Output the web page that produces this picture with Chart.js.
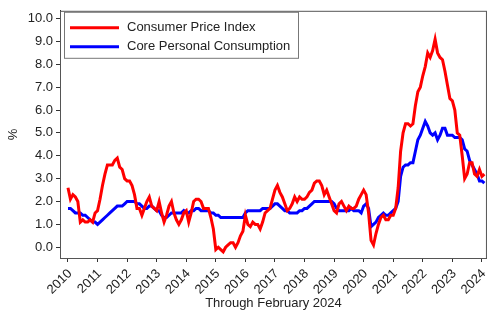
<!DOCTYPE html>
<html>
<head>
<meta charset="utf-8">
<script src="https://cdn.jsdelivr.net/npm/chart.js@4"></script>
<style>
  html, body { margin: 0; padding: 0; background: #fff; }
  #wrap { width: 497px; height: 314px; }
</style>
</head>
<body>
<div id="wrap"><canvas id="inflationChart" width="497" height="314"></canvas></div>
<script>
// monthly year-over-year rates, Jan 2010 .. Feb 2024
var startYear = 2010;
var seriesNames = ['Consumer Price Index', 'Core Personal Consumption'];
var cpi = [
    2.6, 2.1, 2.3, 2.2, 2.0, 1.1, 1.2, 1.1, 1.1, 1.2, 1.1, 1.5,
    1.6, 2.1, 2.7, 3.2, 3.6, 3.6, 3.6, 3.8, 3.9, 3.5, 3.4, 3.0,
    2.9, 2.9, 2.7, 2.3, 1.7, 1.7, 1.4, 1.7, 2.0, 2.2, 1.8, 1.7,
    1.6, 2.0, 1.5, 1.1, 1.4, 1.8, 2.0, 1.5, 1.2, 1.0, 1.2, 1.5,
    1.6, 1.1, 1.5, 2.0, 2.1, 2.1, 2.0, 1.7, 1.7, 1.7, 1.3, 0.8,
    -0.1, 0.0, -0.1, -0.2, 0.0, 0.1, 0.2, 0.2, 0.0, 0.2, 0.5, 0.7,
    1.4, 1.0, 0.9, 1.1, 1.0, 1.0, 0.8, 1.1, 1.5, 1.6, 1.7, 2.1,
    2.5, 2.7, 2.4, 2.2, 1.9, 1.6, 1.7, 1.9, 2.2, 2.0, 2.2, 2.1,
    2.1, 2.2, 2.4, 2.5, 2.8, 2.9, 2.9, 2.7, 2.3, 2.5, 2.2, 1.9,
    1.6, 1.5, 1.9, 2.0, 1.8, 1.6, 1.8, 1.7, 1.7, 1.8, 2.1, 2.3,
    2.5, 2.3, 1.5, 0.3, 0.1, 0.6, 1.0, 1.3, 1.4, 1.2, 1.2, 1.4,
    1.4, 1.7, 2.6, 4.2, 5.0, 5.4, 5.4, 5.3, 5.4, 6.2, 6.8, 7.0,
    7.5, 7.9, 8.5, 8.3, 8.6, 9.1, 8.5, 8.3, 8.2, 7.7, 7.1, 6.5,
    6.4, 6.0, 5.0, 4.9, 4.0, 3.0, 3.2, 3.7, 3.7, 3.2, 3.1, 3.4,
    3.1, 3.2
];
var corePce = [
    1.7, 1.7, 1.6, 1.5, 1.5, 1.5, 1.4, 1.4, 1.3, 1.2, 1.1, 1.1,
    1.0, 1.1, 1.2, 1.3, 1.4, 1.5, 1.6, 1.7, 1.8, 1.8, 1.8, 1.9,
    2.0, 2.0, 2.0, 2.0, 1.9, 1.9, 1.8, 1.7, 1.7, 1.8, 1.8, 1.7,
    1.6, 1.6, 1.4, 1.3, 1.3, 1.4, 1.5, 1.5, 1.5, 1.5, 1.5, 1.6,
    1.5, 1.5, 1.6, 1.6, 1.7, 1.7, 1.6, 1.6, 1.6, 1.6, 1.5, 1.5,
    1.4, 1.4, 1.3, 1.3, 1.3, 1.3, 1.3, 1.3, 1.3, 1.3, 1.3, 1.3,
    1.5, 1.6, 1.6, 1.6, 1.6, 1.6, 1.6, 1.7, 1.7, 1.7, 1.7, 1.8,
    1.9, 1.9, 1.8, 1.7, 1.6, 1.6, 1.5, 1.5, 1.5, 1.5, 1.6, 1.6,
    1.7, 1.7, 1.8, 1.9, 2.0, 2.0, 2.0, 2.0, 2.0, 2.0, 2.0, 2.0,
    1.9, 1.7, 1.6, 1.6, 1.6, 1.6, 1.6, 1.7, 1.6, 1.6, 1.6, 1.5,
    1.8, 1.9, 1.7, 0.9, 1.0, 1.1, 1.3, 1.4, 1.5, 1.4, 1.4, 1.5,
    1.6, 1.7, 2.0, 3.1, 3.5, 3.6, 3.6, 3.7, 3.7, 4.2, 4.7, 4.9,
    5.2, 5.5, 5.3, 5.0, 4.9, 5.0, 4.7, 4.9, 5.2, 5.2, 4.9, 4.9,
    4.9, 4.8, 4.8, 4.8, 4.7, 4.3, 4.2, 3.8, 3.6, 3.4, 3.2, 2.9,
    2.9, 2.8
];
var yearTicks = [2010, 2011, 2012, 2013, 2014, 2015, 2016, 2017, 2018, 2019, 2020, 2021, 2022, 2023, 2024];
var xTitle = 'Through February 2024';
var yTitle = '%';

function toPoints(values) {
    return values.map(function (v, i) {
        return { x: startYear + i / 12, y: v };
    });
}

var fontFamily = '"Liberation Sans", Arial, Helvetica, sans-serif';
var textColor = '#222';

// plot frame plus the boxed legend in the top left corner
var frameAndLegend = {
    id: 'frameAndLegend',
    afterDatasetsDraw: function (chart) {
        var ctx = chart.ctx;
        var a = chart.chartArea;
        ctx.save();
        ctx.strokeStyle = '#555';
        ctx.lineWidth = 1;
        ctx.strokeRect(a.left + 0.5, a.top + 0.5, a.right - a.left - 1, a.bottom - a.top);

        var bx = a.left + 4.5, by = a.top + 1.5, bw = 234, bh = 46;
        ctx.fillStyle = '#fff';
        ctx.fillRect(bx, by, bw, bh);
        ctx.strokeStyle = '#777';
        ctx.strokeRect(bx, by, bw, bh);

        ctx.font = '13px ' + fontFamily;
        ctx.textBaseline = 'middle';
        ctx.textAlign = 'left';
        chart.data.datasets.forEach(function (ds, i) {
            var y = a.top + 17 + i * 19;
            ctx.strokeStyle = ds.borderColor;
            ctx.lineWidth = 3;
            ctx.beginPath();
            ctx.moveTo(a.left + 10, y);
            ctx.lineTo(a.left + 59, y);
            ctx.stroke();
            ctx.fillStyle = textColor;
            ctx.fillText(ds.label, a.left + 67, y);
        });
        ctx.restore();
    }
};

var ctx = document.getElementById('inflationChart').getContext('2d');
var inflationChart = new Chart(ctx, {
    type: 'line',
    data: {
        datasets: [{
            label: seriesNames[0],
            data: toPoints(cpi),
            borderColor: '#ff0000',
            backgroundColor: '#ff0000',
            borderWidth: 3,
            pointRadius: 0,
            tension: 0
        }, {
            label: seriesNames[1],
            data: toPoints(corePce),
            borderColor: '#0000ff',
            backgroundColor: '#0000ff',
            borderWidth: 3,
            pointRadius: 0,
            tension: 0
        }]
    },
    options: {
        responsive: false,
        animation: false,
        events: [],
        layout: { padding: { top: 3, right: 4, bottom: 0, left: 0 } },
        plugins: {
            legend: { display: false },
            tooltip: { enabled: false }
        },
        scales: {
            x: {
                type: 'linear',
                min: 2009.73,
                max: 2024.17,
                afterFit: function (scale) { scale.height = 56; },
                afterBuildTicks: function (scale) {
                    scale.ticks = yearTicks.map(function (y) { return { value: y }; });
                },
                ticks: {
                    color: textColor,
                    font: { family: fontFamily, size: 13 },
                    minRotation: 45,
                    maxRotation: 45,
                    padding: 4,
                    labelOffset: 2,
                    autoSkip: false,
                    callback: function (v) { return String(v); }
                },
                grid: { drawOnChartArea: false, drawTicks: true, tickLength: 4, color: '#333' },
                border: { display: true, color: '#333' },
                title: {
                    display: true,
                    text: xTitle,
                    color: textColor,
                    font: { family: fontFamily, size: 13 },
                    padding: { top: 2, bottom: 3 }
                }
            },
            y: {
                min: -0.47,
                max: 10.34,
                afterFit: function (scale) { scale.width = 60; },
                ticks: {
                    stepSize: 1,
                    includeBounds: false,
                    color: textColor,
                    font: { family: fontFamily, size: 13 },
                    padding: 3,
                    callback: function (v) { return v.toFixed(1); }
                },
                grid: { drawOnChartArea: false, drawTicks: true, tickLength: 4, color: '#333' },
                border: { display: true, color: '#333' },
                title: {
                    display: true,
                    text: yTitle,
                    color: textColor,
                    font: { family: fontFamily, size: 13 },
                    padding: { top: 6, bottom: 0 }
                }
            }
        }
    },
    plugins: [frameAndLegend]
});
</script>
</body>
</html>
